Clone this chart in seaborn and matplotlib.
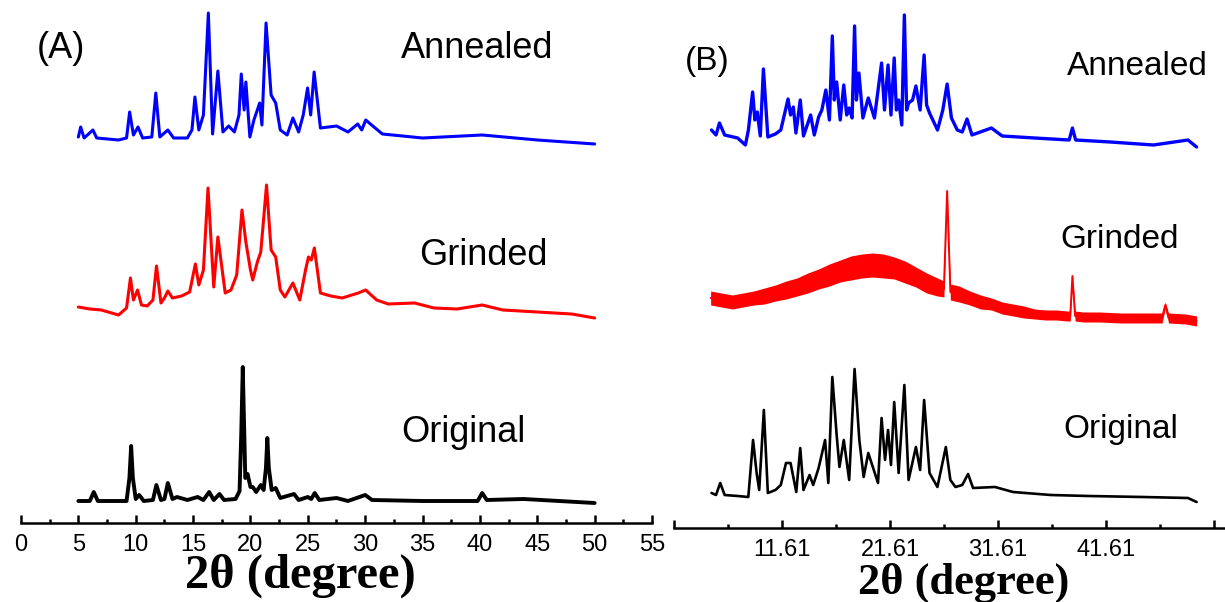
import numpy as np
import pandas as pd
import matplotlib
matplotlib.use("Agg")
import matplotlib.pyplot as plt
from matplotlib.ticker import FixedLocator
import seaborn as sns

# ---------------- Panel A: 2-theta (deg) and intensity (a.u.) ----------------
a_original_x = [5.0, 6.0, 6.34, 6.7, 9.2, 9.45, 9.6, 9.75, 10.0, 10.3, 10.7, 11.5, 11.8, 12.2,
                12.5, 12.8, 13.2, 13.6, 14.5, 15.4, 15.9, 16.4, 16.8, 17.3, 17.7, 18.7,
                19.05, 19.2, 19.33, 19.45, 19.55, 19.75, 20.0, 20.2, 20.5, 20.9, 21.15,
                21.35, 21.47, 21.6, 21.85, 22.2, 22.6, 23.8, 24.2, 25.0, 25.3, 25.6, 26.0,
                27.5, 28.5, 30.0, 30.6, 35.0, 39.8, 40.2, 40.6, 43.8, 50.0]
a_original_y = [22, 22, 31, 22, 22, 45, 77, 45, 24, 28, 22, 23, 38, 23,
                24, 40, 24, 26, 23, 26, 23, 31, 23, 29, 23, 24,
                32, 90, 156, 95, 45, 49, 36, 36, 31, 38, 33,
                55, 85, 55, 33, 35, 25, 29, 23, 26, 24, 30, 23,
                25, 22, 28, 23, 22, 22, 30, 23, 24, 20]

a_grinded_x = [5.0, 6.0, 7.0, 8.5, 9.2, 9.54, 9.8, 10.16, 10.5, 11.0, 11.5, 11.81, 12.2, 12.5,
               12.8, 13.2, 14.0, 14.7, 15.2, 15.5, 15.9, 16.3, 16.8, 17.16, 17.8, 18.3, 18.8,
               19.26, 19.6, 20.0, 20.2, 20.6, 20.9, 21.4, 21.8, 22.2, 22.6, 23.0, 23.7, 24.3,
               24.8, 25.06, 25.3, 25.57, 26.1, 27.0, 28.0, 29.4, 30.04, 31.0, 32.0, 34.3,
               36.0, 38.0, 40.2, 42.0, 45.0, 48.0, 50.0]
a_grinded_y = [26, 24, 23, 18, 25, 55, 33, 43, 28, 27, 33, 67, 30, 35,
               42, 35, 37, 41, 69, 48, 63, 145, 46, 96, 40, 43, 58,
               123, 91, 63, 53, 71, 81, 148, 83, 76, 43, 36, 50, 33,
               63, 76, 73, 85, 40, 37, 35, 40, 43, 33, 29, 30,
               25, 24, 28, 23, 21, 19, 15]

a_annealed_x = [5.0, 5.2, 5.5, 6.27, 6.6, 8.5, 9.2, 9.47, 9.8, 10.2, 10.6, 11.4, 11.75, 12.1,
                12.8, 13.3, 14.5, 14.9, 15.16, 15.5, 15.9, 16.33, 16.7, 17.16, 17.6, 18.1,
                18.6, 19.0, 19.2, 19.45, 19.6, 19.95, 20.3, 20.6, 20.8, 21.0, 21.36, 21.8,
                22.2, 22.6, 23.2, 23.7, 24.2, 24.6, 24.98, 25.25, 25.55, 26.1, 27.5, 28.5,
                29.35, 29.7, 30.05, 30.56, 31.5, 35.0, 40.2, 45.0, 50.0]
a_annealed_y = [26, 36, 25, 33, 25, 23, 25, 51, 28, 36, 25, 26, 70, 26,
                33, 25, 25, 33, 66, 33, 48, 150, 29, 92, 31, 37,
                31, 48, 89, 53, 81, 26, 43, 53, 60, 38, 140, 68,
                60, 33, 28, 45, 31, 48, 75, 48, 91, 35, 37, 31,
                39, 33, 43, 38, 29, 25, 28, 23, 19]

# ---------------- Panel B ----------------
b_original_x = [5.08, 5.5, 5.89, 6.3, 7.5, 8.49, 8.93, 9.26, 9.5, 9.93, 10.3, 11.0, 11.5, 11.98,
                12.4, 12.93, 13.3, 13.6, 14.16, 14.5, 15.0, 15.6, 15.9, 16.27, 16.67, 16.93,
                17.33, 17.83, 18.33, 18.77, 19.17, 19.6, 20.5, 20.83, 21.15, 21.43, 21.7, 22.0,
                22.41, 22.94, 23.33, 24.01, 24.4, 24.77, 25.27, 26.0, 26.78, 27.2, 27.67, 28.3,
                28.84, 29.3, 31.33, 33.0, 36.5, 40.0, 45.0, 49.2, 50.0]
b_original_y = [35, 33, 45, 33, 32, 31, 88, 55, 38, 118, 35, 38, 43, 65,
                65, 36, 80, 38, 53, 43, 60, 88, 45, 151, 93, 61,
                88, 48, 159, 88, 51, 75, 45, 110, 68, 98, 63, 126,
                55, 143, 48, 81, 58, 128, 55, 41, 81, 48, 41, 43,
                54, 40, 41, 36, 33, 32, 31, 30, 26]

b_grinded_x = [5, 6, 7, 8, 9, 10, 11, 12, 13, 14, 15, 16, 17, 18, 19, 20, 21, 22, 23, 24, 25,
               26, 26.6, 26.9, 27.2, 28, 29, 30, 31, 32, 33, 34, 35, 36, 37, 38, 38.3, 38.5,
               38.75, 39.5, 41, 43, 45, 46.8, 47.1, 47.4, 49, 50]
b_grinded_y = [40, 38, 36, 38, 40, 42, 45, 48, 51, 55, 59, 63, 67, 70, 72, 73, 72, 70, 66, 61, 55,
               51, 49, 147, 46, 44, 40, 36, 34, 30, 28, 26, 24, 23, 23, 22, 22, 62,
               22, 21, 21, 20, 20, 20, 33, 20, 19, 17]
# scatter of the noisy amorphous signal around b_grinded_y
b_grinded_spread = [7, 7, 7, 7, 7, 8, 8, 9, 9, 10, 10, 11, 11, 12, 12, 12, 12, 11, 11, 10, 10,
                    9, 8, 1, 8, 8, 7, 7, 6, 6, 6, 6, 5, 5, 5, 5, 5, 1,
                    5, 5, 5, 5, 5, 5, 3, 5, 5, 5]

b_annealed_x = [5.08, 5.5, 5.82, 6.3, 7.5, 8.22, 8.5, 8.89, 9.1, 9.32, 9.6, 9.89, 10.3, 11.0,
                11.5, 12.17, 12.4, 12.66, 12.9, 13.3, 13.6, 14.26, 14.6, 15.0, 15.3, 15.67,
                16.0, 16.27, 16.45, 16.67, 17.0, 17.33, 17.6, 17.83, 18.1, 18.33, 18.5, 18.73,
                19.1, 19.6, 20.17, 20.83, 21.1, 21.43, 21.7, 22.0, 22.2, 22.41, 22.7, 22.94,
                23.15, 23.33, 23.7, 24.01, 24.4, 24.77, 25.0, 25.27, 26.01, 26.5, 26.9, 27.3,
                27.84, 28.3, 28.74, 29.2, 31.0, 32.0, 35.0, 38.2, 38.5, 38.8, 42.0, 46.0,
                49.2, 50.0]
b_annealed_y = [38, 33, 45, 33, 30, 23, 38, 76, 48, 56, 32, 99, 31, 34,
                38, 69, 53, 61, 35, 68, 32, 53, 33, 51, 58, 78,
                48, 132, 68, 86, 48, 83, 53, 60, 50, 142, 68, 95,
                50, 70, 50, 105, 58, 103, 53, 110, 58, 68, 43, 153,
                58, 65, 68, 82, 58, 113, 63, 55, 38, 58, 84, 50,
                38, 36, 49, 33, 40, 32, 30, 28, 40, 28, 26, 23,
                28, 21]

# vertical stacking offsets (Original, Grinded, Annealed)
stack_offsets = [0, 190, 360]
a_ticks = list(range(0, 60, 5))
b_ticks = [1.61, 11.61, 21.61, 31.61, 41.61, 51.61]
b_tick_labels = ["", "11.61", "21.61", "31.61", "41.61", ""]

sns.set_theme(style="white")
plt.rcParams["font.family"] = ["Liberation Sans", "DejaVu Sans"]
plt.rcParams["text.color"] = "black"
plt.rcParams["xtick.color"] = "black"
plt.rcParams["xtick.labelcolor"] = "black"

W, H = 1225, 602
fig = plt.figure(figsize=(W / 100, H / 100), dpi=100)
axA = fig.add_axes([21 / W, 1 - 523 / H, 631 / W, 523 / H])
axB = fig.add_axes([674 / W, 1 - 528 / H, 551 / W, 528 / H])


def draw(ax, x, y, offset, color, lw):
    df = pd.DataFrame({"two_theta": x, "intensity": np.asarray(y, float) + offset})
    sns.lineplot(data=df, x="two_theta", y="intensity", ax=ax, color=color,
                 linewidth=lw, estimator=None, sort=False)


draw(axA, a_original_x, a_original_y, stack_offsets[0], "black", 2.8)
draw(axA, a_grinded_x, a_grinded_y, stack_offsets[1], "#ff0000", 2.2)
draw(axA, a_annealed_x, a_annealed_y, stack_offsets[2], "#0000ff", 2.2)

draw(axB, b_original_x, b_original_y, stack_offsets[0], "black", 1.9)
gy = np.asarray(b_grinded_y, float) + stack_offsets[1]
gs = np.asarray(b_grinded_spread, float)
axB.fill_between(b_grinded_x, gy - gs, gy + gs, color="#ff0000", lw=0)
draw(axB, b_grinded_x, b_grinded_y, stack_offsets[1], "#ff0000", 1.4)
draw(axB, b_annealed_x, b_annealed_y, stack_offsets[2], "#0000ff", 2.4)

for ax, ylim in ((axA, 523), (axB, 528)):
    ax.set_ylim(0, ylim)
    ax.set_facecolor("none")
    for side in ("left", "right", "top"):
        ax.spines[side].set_visible(False)
    ax.spines["bottom"].set_color("black")
    ax.spines["bottom"].set_linewidth(1.8)
    ax.set_yticks([])
    ax.set_xlabel("")
    ax.set_ylabel("")
    ax.tick_params(axis="x", which="major", direction="in", length=6, width=1.8,
                   color="black", labelcolor="black", labelsize=17, pad=8, bottom=True)
    ax.tick_params(axis="x", which="minor", direction="in", length=3, width=1.8,
                   color="black", bottom=True)

axA.set_xlim(0, 55)
axA.set_xticks(a_ticks)
axA.set_xticklabels([str(t) for t in a_ticks])
axA.xaxis.set_minor_locator(FixedLocator([t + 2.5 for t in a_ticks[:-1]]))

axB.set_xlim(1.61, 1.61 + 551 / 10.8)
axB.set_xticks(b_ticks)
axB.set_xticklabels(b_tick_labels)
axB.xaxis.set_minor_locator(FixedLocator([t + 5 for t in b_ticks[:-1]]))

for ax in (axA, axB):
    for t in ax.get_xticklabels():
        t.set_fontsize(17)
        t.set_color("black")


def label(px, py, s, size, **kw):
    fig.text(px / W, 1 - py / H, s, fontsize=size, ha="left", va="baseline",
             color="black", **kw)


label(37, 58, "(A)", 26)
label(401, 58, "Annealed", 26)
label(419, 265, "Grinded", 26)
label(401, 442, "Original", 26)
label(685, 70, "(B)", 24)
label(1067, 75, "Annealed", 24)
label(1060, 248, "Grinded", 24)
label(1063, 438, "Original", 24)

fig.text(300 / W, 1 - 588 / H, "2θ (degree)", fontsize=35, ha="center", va="baseline",
         family=["Liberation Serif", "DejaVu Serif"], weight="bold", color="black")
fig.text(964 / W, 1 - 594 / H, "2θ (degree)", fontsize=32, ha="center", va="baseline",
         family=["Liberation Serif", "DejaVu Serif"], weight="bold", color="black")

fig.savefig("out.png", dpi=100)
